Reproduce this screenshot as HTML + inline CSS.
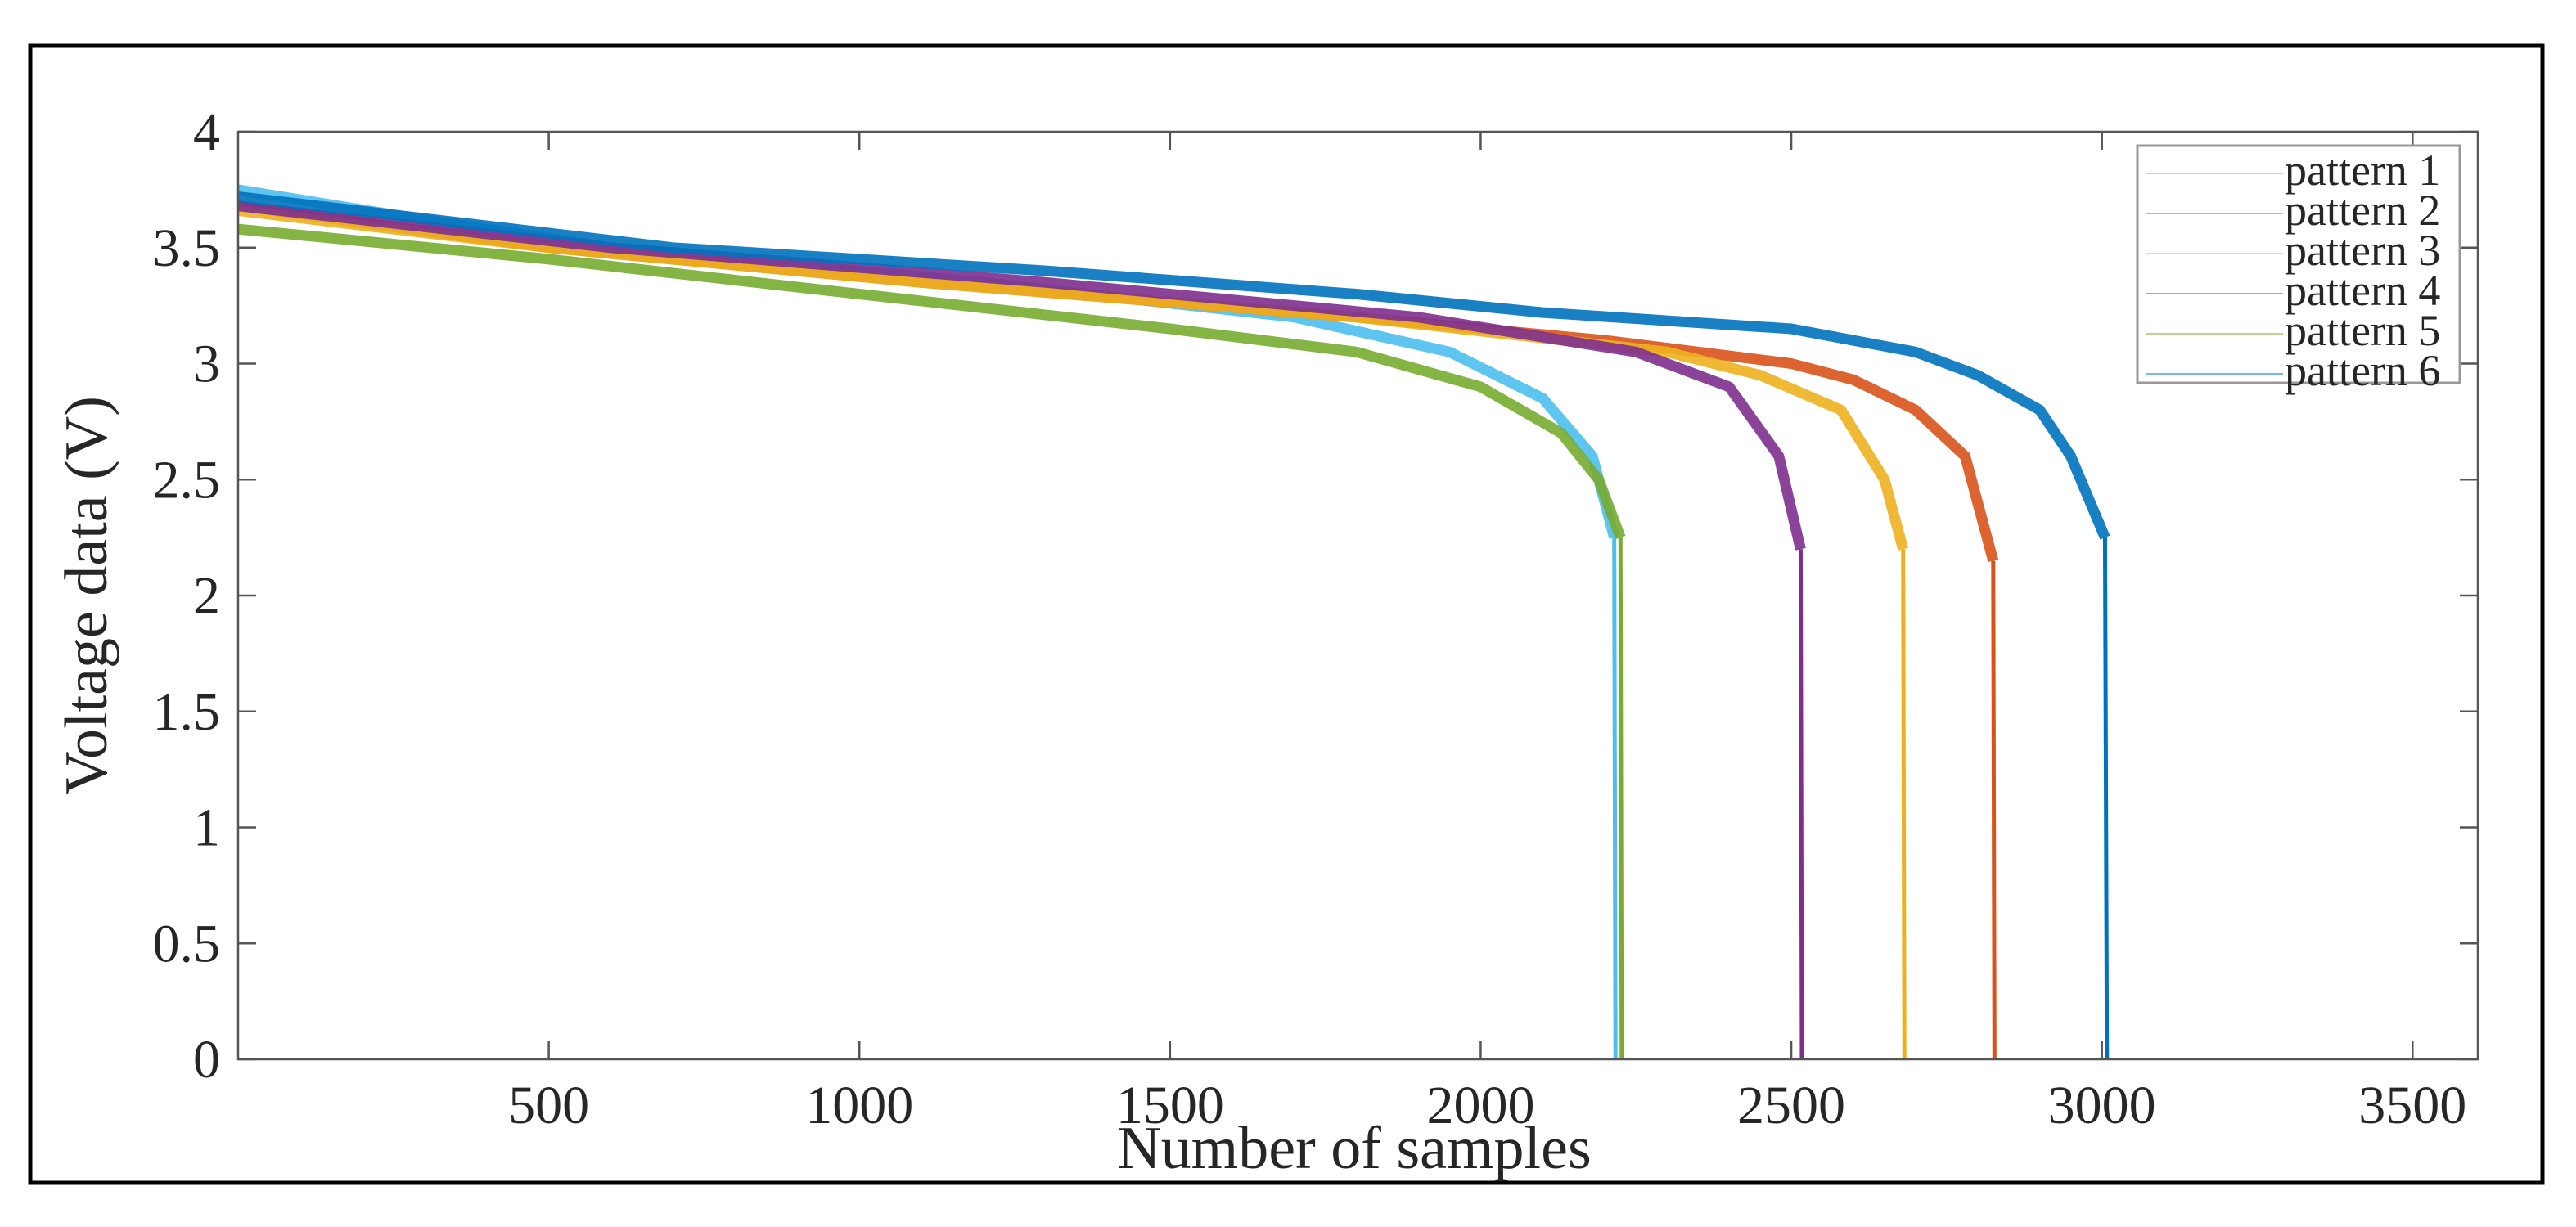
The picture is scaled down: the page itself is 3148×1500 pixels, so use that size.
<!DOCTYPE html>
<html><head><meta charset="utf-8"><style>
html,body{margin:0;padding:0;background:#fff}
svg{display:block}
text{font-family:"Liberation Serif",serif;fill:#262626}
</style></head><body>
<svg id="chart" width="3148" height="1500" viewBox="0 0 3148 1500">
<rect x="37" y="56" width="3070" height="1390" fill="#fff" stroke="#000" stroke-width="5"/>
<g id="plot"></g>
</svg>
<script>
const seriesNames=["pattern 1","pattern 2","pattern 3","pattern 4","pattern 5","pattern 6"];
const seriesColors=["#4DBEEE","#D95319","#EDB120","#7E2F8E","#77AC30","#0072BD"];
const p1X=[0,300,600,1200,1700,1950,2100,2180,2215,2217];
const p1Y=[3.75,3.62,3.5,3.35,3.2,3.05,2.85,2.6,2.25,0];
const p2X=[0,500,1100,1800,2200,2500,2600,2700,2780,2825,2827];
const p2Y=[3.68,3.5,3.35,3.2,3.1,3.0,2.93,2.8,2.6,2.15,0];
const p3X=[0,500,1100,1800,2300,2450,2580,2650,2680,2682];
const p3Y=[3.66,3.5,3.35,3.2,3.05,2.95,2.8,2.5,2.2,0];
const p4X=[0,600,1300,1900,2250,2400,2480,2515,2517];
const p4Y=[3.68,3.5,3.35,3.2,3.05,2.9,2.6,2.2,0];
const p5X=[0,500,1000,1500,1800,2000,2130,2190,2225,2227];
const p5Y=[3.58,3.45,3.3,3.15,3.05,2.9,2.7,2.5,2.25,0];
const p6X=[0,700,1300,1800,2100,2500,2700,2800,2900,2950,3005,3008];
const p6Y=[3.72,3.5,3.4,3.3,3.22,3.15,3.05,2.95,2.8,2.6,2.25,0];
const xTicks=[500,1000,1500,2000,2500,3000,3500];
const yTicks=[0,0.5,1,1.5,2,2.5,3,3.5,4];
const yTickLabels=["0","0.5","1","1.5","2","2.5","3","3.5","4"];

const L=291,R=3028,T=161,B=1295,XMAX=3605,YMAX=4;
const sx=v=>L+v/XMAX*(R-L);
const sy=v=>B-v/YMAX*(B-T);
const NS="http://www.w3.org/2000/svg";
const g=document.getElementById('plot');
function mk(tag,attrs,parent){const e=document.createElementNS(NS,tag);for(const k in attrs)e.setAttribute(k,attrs[k]);(parent||g).appendChild(e);return e;}

const xs=[p1X,p2X,p3X,p4X,p5X,p6X], ys=[p1Y,p2Y,p3Y,p4Y,p5Y,p6Y];
for(let i=0;i<6;i++){
  const n=xs[i].length;
  const dTop=xs[i].slice(0,n-1).map((x,j)=>(j?'L':'M')+sx(x).toFixed(1)+' '+sy(ys[i][j]).toFixed(1)).join(' ');
  const p=mk('path',{d:dTop,fill:'none',stroke:seriesColors[i],'stroke-width':13,'stroke-linejoin':'round','stroke-opacity':0.9});
  
  
  const dr=mk('line',{x1:sx(xs[i][n-2]),y1:sy(ys[i][n-2]),x2:sx(xs[i][n-1]),y2:sy(ys[i][n-1]),stroke:seriesColors[i],'stroke-width':5});
  
  
}
const ax=mk('rect',{x:L,y:T,width:R-L,height:B-T,fill:'none',stroke:'#555','stroke-width':2.5});


xTicks.forEach(v=>{
  mk('line',{x1:sx(v),x2:sx(v),y1:B,y2:B-22,stroke:'#555','stroke-width':2.5});
  mk('line',{x1:sx(v),x2:sx(v),y1:T,y2:T+22,stroke:'#555','stroke-width':2.5});
  const t=mk('text',{x:sx(v),y:B+78,'text-anchor':'middle','font-size':66});
  t.textContent=v;
  
  
});
yTicks.forEach((v,i)=>{
  mk('line',{x1:L,x2:L+22,y1:sy(v),y2:sy(v),stroke:'#555','stroke-width':2.5});
  mk('line',{x1:R,x2:R-22,y1:sy(v),y2:sy(v),stroke:'#555','stroke-width':2.5});
  const t=mk('text',{x:L-22,y:sy(v)+22,'text-anchor':'end','font-size':66});
  t.textContent=yTickLabels[i];
  
  
});
const xl=mk('text',{x:1655,y:1428,'text-anchor':'middle','font-size':74});
xl.textContent='Number of samples';


const yl=mk('text',{x:0,y:0,'text-anchor':'middle','font-size':74,transform:'translate(130 728) rotate(-90)'});
yl.textContent='Voltage data (V)';


const lg=mk('g',{});


mk('rect',{x:2612,y:178,width:394,height:290,fill:'#fff',stroke:'#999','stroke-width':3},lg);
seriesNames.forEach((n,i)=>{
  const y=212+i*49;
  const ln=mk('line',{x1:2622,x2:2790,y1:y,y2:y,stroke:seriesColors[i],'stroke-width':2,'stroke-opacity':0.5},lg);
  
  
  const t=mk('text',{x:2792,y:y+14,'font-size':54},lg);
  t.textContent=n;
  
  
});
</script>
</body></html>
